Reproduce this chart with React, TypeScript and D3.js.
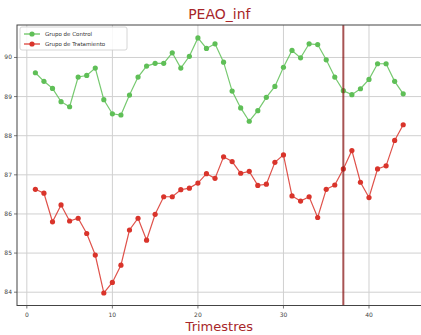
import React from "react";
import * as d3 from "d3";

const quarters = d3.range(1, 45);
const controlValues = [
  89.61, 89.39, 89.21, 88.87, 88.74, 89.5, 89.54, 89.73, 88.92, 88.56,
  88.53, 89.04, 89.5, 89.78, 89.85, 89.85, 90.12, 89.73, 90.03, 90.5,
  90.23, 90.35, 89.88, 89.14, 88.71, 88.37, 88.64, 88.98, 89.26, 89.75,
  90.18, 89.99, 90.35, 90.33, 89.94, 89.5, 89.15, 89.05, 89.2, 89.44,
  89.84, 89.84, 89.39, 89.07,
];
const treatmentValues = [
  86.63, 86.53, 85.8, 86.23, 85.82, 85.89, 85.5, 84.95, 83.98, 84.25,
  84.69, 85.59, 85.89, 85.33, 85.99, 86.44, 86.44, 86.62, 86.66, 86.79,
  87.03, 86.91, 87.46, 87.34, 87.04, 87.09, 86.73, 86.76, 87.32, 87.51,
  86.46, 86.33, 86.44, 85.91, 86.63, 86.74, 87.15, 87.62, 86.81, 86.42,
  87.15, 87.23, 87.88, 88.28,
];
const xTicks = [0, 10, 20, 30, 40];
const yTicks = [84, 85, 86, 87, 88, 89, 90];
const seriesNames = ["Grupo de Control", "Grupo de Tratamiento"];
const interventionX = 37;
const title = "PEAO_inf";
const xLabel = "Trimestres";

export default function App() {
  const W = 421, H = 335;
  const L = 17, T = 25, R = 421.6, B = 305.5;
  const x = d3.scaleLinear().domain([-1.15, 46.15]).range([L, R]);
  const y = d3.scaleLinear().domain([83.66, 90.83]).range([B, T]);
  const line = d3.line<number>().x((_, i) => x(quarters[i])).y((d) => y(d));
  const green = "#5fbf57";
  const red = "#d9342b";
  const titleColor = "#a8262a";
  const series = [
    { name: seriesNames[0], values: controlValues, color: green },
    { name: seriesNames[1], values: treatmentValues, color: red },
  ];
  return (
    <svg width={W} height={H} style={{ position: "absolute", left: 0, top: 0, fontFamily: "DejaVu Sans" }}>
      <rect width={W} height={H} fill="#fff" />
      <defs>
        <clipPath id="pa">
          <rect x={L} y={T} width={R - L} height={B - T} />
        </clipPath>
      </defs>
      {xTicks.map((t) => (
        <g key={"x" + t}>
          <line x1={x(t)} x2={x(t)} y1={T} y2={B} stroke="#d0d0d0" strokeWidth={1} />
          <line x1={x(t)} x2={x(t)} y1={B} y2={B + 3} stroke="#555" strokeWidth={0.8} />
          <text x={x(t)} y={B + 11} fontSize={6} fill="#444" textAnchor="middle">{t}</text>
        </g>
      ))}
      {yTicks.map((t) => (
        <g key={"y" + t}>
          <line x1={L} x2={R} y1={y(t)} y2={y(t)} stroke="#d0d0d0" strokeWidth={1} />
          <line x1={L - 3} x2={L} y1={y(t)} y2={y(t)} stroke="#555" strokeWidth={0.8} />
          <text x={L - 5} y={y(t) + 2} fontSize={6} fill="#444" textAnchor="end">{t}</text>
        </g>
      ))}
      <g clipPath="url(#pa)">
        {series.map((s) => (
          <g key={s.name}>
            <path d={line(s.values) || ""} fill="none" stroke={s.color} strokeWidth={1.2} strokeOpacity={0.85} />
            {s.values.map((v, i) => (
              <circle key={i} cx={x(quarters[i])} cy={y(v)} r={2.6} fill={s.color} />
            ))}
          </g>
        ))}
        <line x1={x(interventionX)} x2={x(interventionX)} y1={T} y2={B} stroke="#8b1a1a" strokeOpacity={0.75} strokeWidth={2} />
      </g>
      <rect x={L} y={T} width={R - L} height={B - T} fill="none" stroke="#444" strokeWidth={1} />
      <g>
        <rect x={20} y={27} width={107} height={23} fill="#fff" fillOpacity={0.85} stroke="#ccc" strokeWidth={0.8} rx={2} />
        {series.map((s, i) => (
          <g key={"lg" + i}>
            <line x1={24} x2={40} y1={34 + i * 10} y2={34 + i * 10} stroke={s.color} strokeWidth={1.2} />
            <circle cx={32} cy={34 + i * 10} r={2.6} fill={s.color} />
            <text x={45} y={36 + i * 10} fontSize={5.5} fill="#333">{s.name}</text>
          </g>
        ))}
      </g>
      <text x={(L + R) / 2} y={19} fontSize={14} fill={titleColor} textAnchor="middle">{title}</text>
      <text x={(L + R) / 2} y={331} fontSize={13} fill={titleColor} textAnchor="middle">{xLabel}</text>
    </svg>
  );
}
